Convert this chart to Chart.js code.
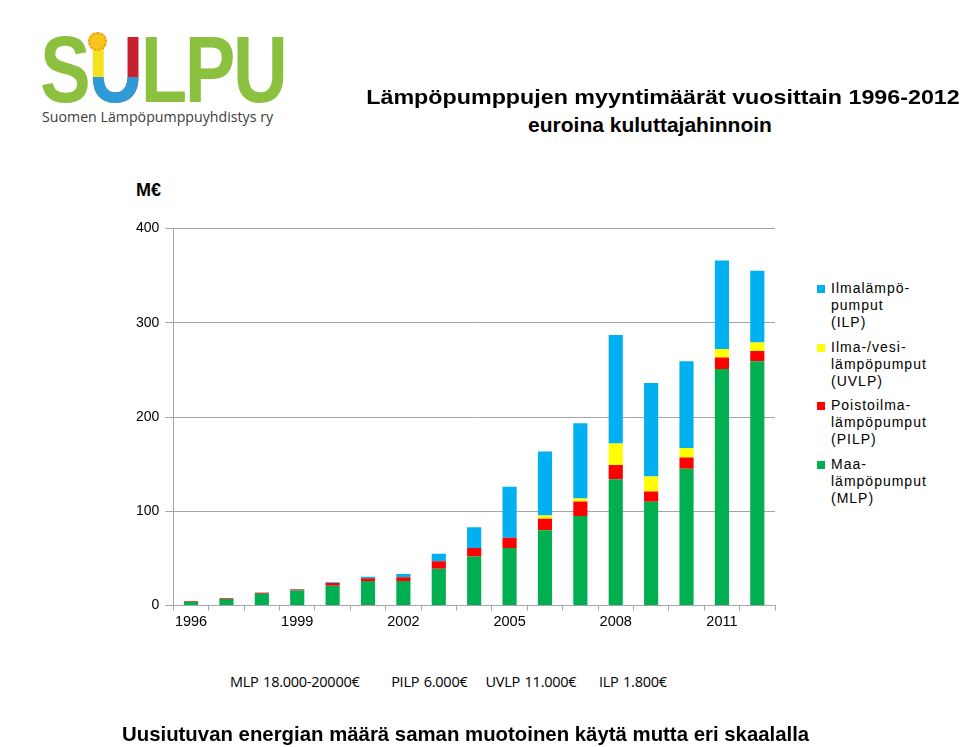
<!DOCTYPE html>
<html>
<head>
<meta charset="utf-8">
<script src="https://cdn.jsdelivr.net/npm/chart.js@4/dist/chart.umd.min.js"></script>
<style>
    html, body { margin: 0; padding: 0; background: #fff; }
    body { width: 960px; height: 747px; position: relative; overflow: hidden; font-family: 'Liberation Sans', Arial, sans-serif; }
    .abs { position: absolute; white-space: nowrap; }
    #logo { left: 40px; top: 22px; }
    #logo .big { font: bold 95px/95px 'Liberation Sans', Arial, sans-serif; color: #8cc13f; letter-spacing: -3px; transform: scaleX(0.8); transform-origin: left top; display: block; }
    #logo .u {
        position: relative;
        background: linear-gradient(to bottom, transparent 58%, #2f9bd6 58%), linear-gradient(to right, #f4e21c 50%, #c8202f 50%);
        -webkit-background-clip: text; background-clip: text; color: transparent;
    }
    #logo .sun { position: absolute; left: 48px; top: 10px; width: 15px; height: 15px; border-radius: 50%; background: #f7c51e; border: 2px dotted #e89a14; }
    #logo .sub { font: 14.2px 'Open Sans', 'Liberation Sans', sans-serif; color: #3c3c3c; position: absolute; left: 2px; top: 85px; }
    .title { font-weight: bold; font-size: 21px; color: #000; text-align: center; }
    #legend { left: 817px; top: 280px; font-size: 14px; line-height: 17px; color: #000; letter-spacing: 1px; }
    #legend .item { position: relative; padding-left: 14px; margin-bottom: 7.5px; }
    #legend .sw { position: absolute; left: 0; top: 5px; width: 8px; height: 8px; }
    #chartBox { left: 130px; top: 214px; width: 655px; height: 420px; }
</style>
</head>
<body>
<div id="logo" class="abs">
    <span class="big">S<span class="u">U</span>LPU</span>
    <span class="sun"></span>
    <span class="sub">Suomen Lämpöpumppuyhdistys ry</span>
</div>
<div class="abs title" style="left:363px; top:85px; width:600px; transform:scaleX(1.108);">Lämpöpumppujen myyntimäärät vuosittain 1996-2012</div>
<div class="abs title" style="left:350px; top:113px; width:600px;">euroina kuluttajahinnoin</div>
<div class="abs" style="left:136px; top:180px; font-weight:bold; font-size:18px;">M€</div>

<div id="chartBox" class="abs"><canvas id="chart"></canvas></div>
<div id="legend" class="abs"></div>

<div class="abs" style="left:230px; top:672px; font-family:'Open Sans', sans-serif; font-size:14.5px; letter-spacing:-0.25px; word-spacing:1px;">MLP 18.000-20000€&nbsp;&nbsp;&nbsp;&nbsp;&nbsp;&nbsp;&nbsp;PILP 6.000€&nbsp;&nbsp;&nbsp;&nbsp;UVLP 11.000€&nbsp;&nbsp;&nbsp;&nbsp;&nbsp;ILP 1.800€</div>
<div class="abs title" style="left:122px; top:722px; transform:scaleX(0.97); transform-origin:left top;">Uusiutuvan energian määrä saman muotoinen käytä mutta eri skaalalla</div>

<script>
const years = ['1996', '1997', '1998', '1999', '2000', '2001', '2002', '2003', '2004',
               '2005', '2006', '2007', '2008', '2009', '2010', '2011', '2012'];

// M€ per year
const mlp  = [4, 7, 12.5, 16, 21, 26, 26, 39, 52, 61, 80, 95, 134, 110, 145, 251, 259];
const pilp = [1, 0.8, 1, 1, 3, 3, 4, 8, 9, 11, 12, 15.5, 15, 11, 12, 12, 11];
const uvlp = [0, 0, 0, 0, 0, 0, 0, 0, 0, 0, 3.5, 3, 23, 16, 10, 9, 9];
const ilp  = [0, 0, 0.5, 0.6, 0.7, 1.5, 3.5, 8, 22, 54, 68, 80, 115, 99, 92, 94, 76];

const yTicks = [0, 100, 200, 300, 400];

const series = [
    { label: 'Maa-\nlämpöpumput\n(MLP)', data: mlp, color: '#00b050' },
    { label: 'Poistoilma-\nlämpöpumput\n(PILP)', data: pilp, color: '#ff0000' },
    { label: 'Ilma-/vesi-\nlämpöpumput\n(UVLP)', data: uvlp, color: '#ffff00' },
    { label: 'Ilmalämpö-\npumput\n(ILP)', data: ilp, color: '#00b0f0' },
];

// legend is HTML, top-down order is reverse of stacking
const legendEl = document.getElementById('legend');
series.slice().reverse().forEach(s => {
    const item = document.createElement('div');
    item.className = 'item';
    const sw = document.createElement('span');
    sw.className = 'sw';
    sw.style.background = s.color;
    item.appendChild(sw);
    s.label.split('\n').forEach(line => {
        const d = document.createElement('div');
        d.textContent = line;
        item.appendChild(d);
    });
    legendEl.appendChild(item);
});

const axisGray = '#a6a6a6';

new Chart(document.getElementById('chart').getContext('2d'), {
    type: 'bar',
    data: {
        labels: years,
        datasets: series.map(s => ({
            label: s.label,
            data: s.data,
            backgroundColor: s.color,
            borderWidth: 0,
            barPercentage: 0.4,
            categoryPercentage: 1,
        })),
    },
    options: {
        responsive: true,
        maintainAspectRatio: false,
        animation: false,
        layout: { padding: { top: 8, right: 10 } },
        plugins: {
            legend: { display: false },
            tooltip: { enabled: false },
        },
        scales: {
            x: {
                stacked: true,
                grid: { display: true, drawOnChartArea: false, color: axisGray, tickLength: 5 },
                border: { color: axisGray },
                ticks: {
                    autoSkip: false,
                    maxRotation: 0,
                    color: '#000',
                    font: { family: "'Liberation Sans', Arial", size: 14.5 },
                    callback: (v, i) => (i % 3 === 0 ? years[i] : ''),
                },
            },
            y: {
                stacked: true,
                min: yTicks[0],
                max: yTicks[yTicks.length - 1],
                afterBuildTicks: axis => { axis.ticks = yTicks.map(v => ({ value: v })); },
                grid: { color: axisGray, tickLength: 8 },
                border: { color: axisGray },
                ticks: {
                    color: '#000',
                    padding: 6,
                    font: { family: "'Liberation Sans', Arial", size: 14 },
                },
            },
        },
    },
});
</script>
</body>
</html>
